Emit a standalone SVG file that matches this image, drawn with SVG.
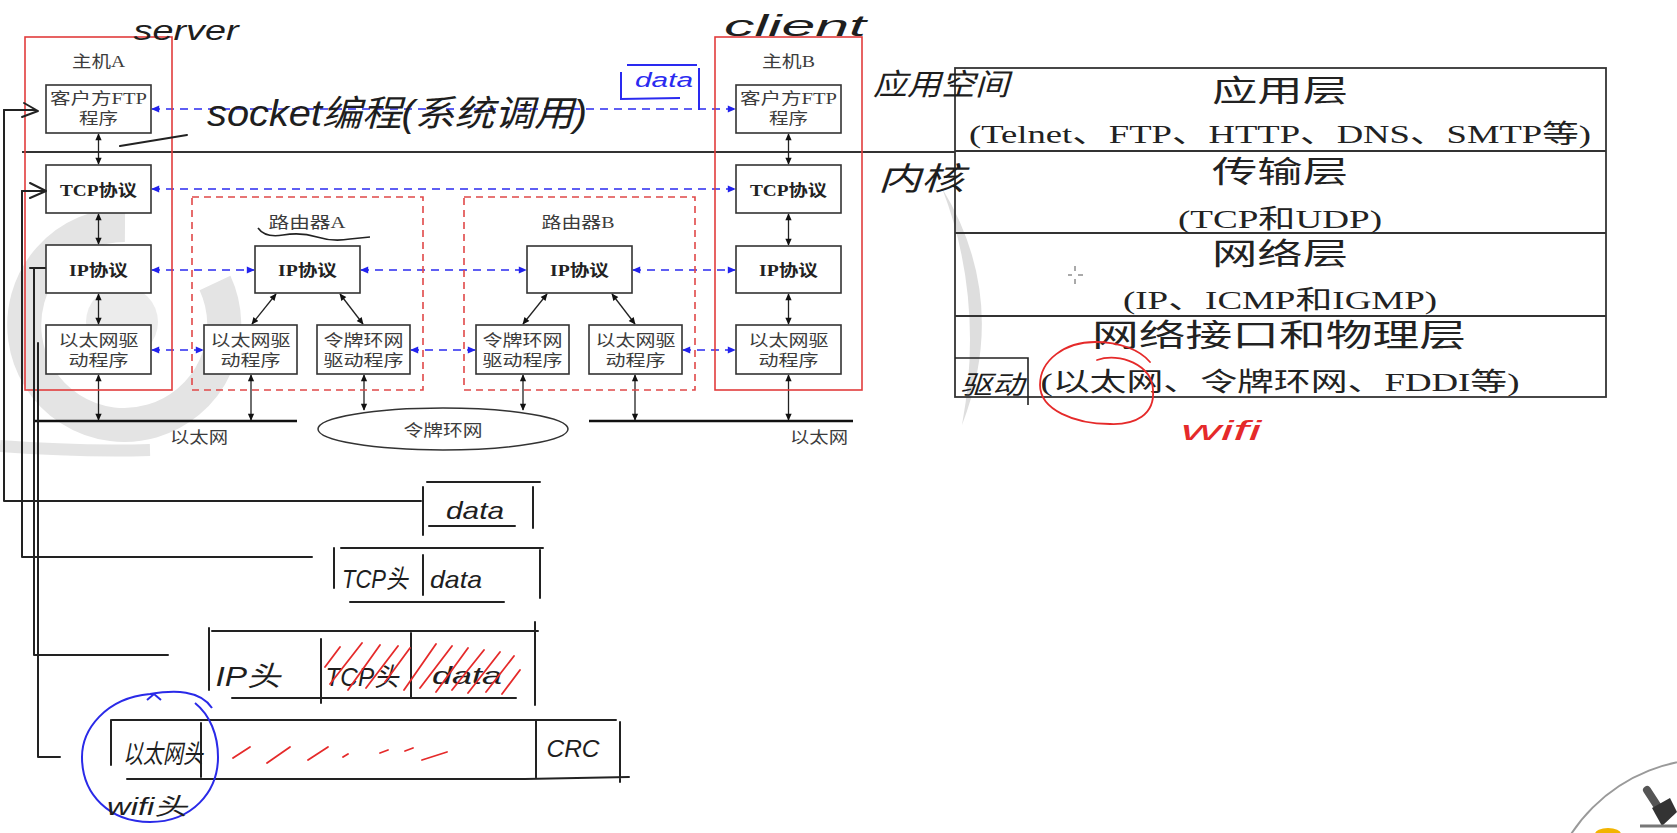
<svg xmlns="http://www.w3.org/2000/svg" width="1677" height="833" viewBox="0 0 1677 833">
<defs>
<style>
.box{fill:#fff;stroke:#333;stroke-width:1.6}
.host{fill:none;stroke:#e23c3c;stroke-width:1.6}
.router{fill:none;stroke:#e04848;stroke-width:1.6;stroke-dasharray:7 5}
.t{font-family:"Liberation Serif","Noto Sans CJK SC",serif;font-size:16px;fill:#3c3c3c;text-anchor:middle}
.tb{font-family:"Liberation Serif","Noto Sans CJK SC",serif;font-size:16px;fill:#222;font-weight:bold;text-anchor:middle}
.lt{font-family:"Liberation Serif","Noto Sans CJK SC",serif;fill:#222;text-anchor:middle}
.bl{stroke:#2a2af0;stroke-width:1.6;stroke-dasharray:8 6;fill:none;marker-start:url(#bh);marker-end:url(#bh)}
.ka{stroke:#222;stroke-width:1.3;fill:none;marker-start:url(#kh);marker-end:url(#kh)}
.pen{stroke:#222;stroke-width:2;fill:none;stroke-linecap:round;stroke-linejoin:round}
.hand{font-family:"Liberation Sans","Noto Sans CJK SC",sans-serif;font-style:italic;fill:#1e1e1e}
.red{stroke:#e52a2a;stroke-width:1.8;fill:none;stroke-linecap:round}
.wm{fill:none;stroke:#e4e4e4}
</style>
<marker id="bh" viewBox="0 0 10 10" refX="9" refY="5" markerWidth="9" markerHeight="8" markerUnits="userSpaceOnUse" orient="auto-start-reverse"><path d="M0,0.5 L10,5 L0,9.5 z" fill="#2222ee"/></marker>
<marker id="kh" viewBox="0 0 10 10" refX="9" refY="5" markerWidth="8" markerHeight="7" markerUnits="userSpaceOnUse" orient="auto-start-reverse"><path d="M0,0.5 L10,5 L0,9.5 z" fill="#111"/></marker>
</defs>
<rect width="1677" height="833" fill="#fff"/>

<!-- watermark -->
<g id="watermark">
<path class="wm" stroke-width="34" d="M125,225 A100,100 0 1,0 215,283"/>
<circle cx="122" cy="322" r="36" fill="#ececec"/>
<path class="wm" stroke-width="12" d="M0,446 Q80,452 150,450"/>
<path d="M942,188 Q1010,300 962,425 Q985,300 942,188 z" fill="#dedede"/>
</g>

<!-- divider line between app space and kernel -->
<line x1="22" y1="152" x2="955" y2="152" stroke="#333" stroke-width="2"/>

<g id="connectors">
<line class="bl" x1="152" y1="109" x2="735" y2="109"/>
<line class="bl" x1="152" y1="189" x2="735" y2="189"/>
<line class="bl" x1="152" y1="270" x2="254" y2="270"/>
<line class="bl" x1="361" y1="270" x2="526" y2="270"/>
<line class="bl" x1="633" y1="270" x2="735" y2="270"/>
<line class="bl" x1="152" y1="350" x2="203" y2="350"/>
<line class="bl" x1="411" y1="350" x2="475" y2="350"/>
<line class="bl" x1="683" y1="350" x2="735" y2="350"/>
<line class="ka" x1="98.5" y1="134" x2="98.5" y2="164"/>
<line class="ka" x1="98.5" y1="214" x2="98.5" y2="244"/>
<line class="ka" x1="98.5" y1="294" x2="98.5" y2="324"/>
<line class="ka" x1="98.5" y1="375" x2="98.5" y2="420"/>
<line class="ka" x1="276" y1="294" x2="252" y2="324"/>
<line class="ka" x1="340" y1="294" x2="363" y2="324"/>
<line class="ka" x1="251" y1="375" x2="251" y2="420"/>
<line class="ka" x1="364" y1="375" x2="364" y2="410"/>
<line class="ka" x1="547" y1="294" x2="523" y2="324"/>
<line class="ka" x1="612" y1="294" x2="635" y2="324"/>
<line class="ka" x1="523" y1="375" x2="523" y2="410"/>
<line class="ka" x1="635" y1="375" x2="635" y2="420"/>
<line class="ka" x1="788.5" y1="134" x2="788.5" y2="164"/>
<line class="ka" x1="788.5" y1="214" x2="788.5" y2="245"/>
<line class="ka" x1="788.5" y1="294" x2="788.5" y2="324"/>
<line class="ka" x1="788.5" y1="375" x2="788.5" y2="420"/>
</g>

<g id="hostA">
<rect class="host" x="25" y="37" width="147" height="353"/>
<text class="t" x="98.5" y="67" textLength="53" lengthAdjust="spacingAndGlyphs">主机A</text>
<rect class="box" x="46" y="85" width="105" height="48"/>
<text class="t" x="98.5" y="104" textLength="97" lengthAdjust="spacingAndGlyphs">客户方FTP</text>
<text class="t" x="98.5" y="124" textLength="39" lengthAdjust="spacingAndGlyphs">程序</text>
<rect class="box" x="46" y="165" width="105" height="48"/>
<text class="tb" x="98.5" y="196" textLength="77" lengthAdjust="spacingAndGlyphs">TCP协议</text>
<rect class="box" x="46" y="245" width="105" height="48"/>
<text class="tb" x="98.5" y="276" textLength="59" lengthAdjust="spacingAndGlyphs">IP协议</text>
<rect class="box" x="46" y="325" width="105" height="49"/>
<text class="t" x="98.5" y="346" textLength="80" lengthAdjust="spacingAndGlyphs">以太网驱</text>
<text class="t" x="98.5" y="366" textLength="60" lengthAdjust="spacingAndGlyphs">动程序</text>
</g>

<g id="routerA">
<rect class="router" x="192" y="197" width="231" height="193"/>
<text class="t" x="307" y="228" textLength="77" lengthAdjust="spacingAndGlyphs">路由器A</text>
<rect class="box" x="255" y="246" width="105" height="47"/>
<text class="tb" x="307.5" y="276" textLength="59" lengthAdjust="spacingAndGlyphs">IP协议</text>
<rect class="box" x="204" y="325" width="93" height="49"/>
<text class="t" x="250.5" y="346" textLength="80" lengthAdjust="spacingAndGlyphs">以太网驱</text>
<text class="t" x="250.5" y="366" textLength="60" lengthAdjust="spacingAndGlyphs">动程序</text>
<rect class="box" x="317" y="325" width="93" height="49"/>
<text class="t" x="363.5" y="346" textLength="80" lengthAdjust="spacingAndGlyphs">令牌环网</text>
<text class="t" x="363.5" y="366" textLength="80" lengthAdjust="spacingAndGlyphs">驱动程序</text>
</g>

<g id="routerB">
<rect class="router" x="464" y="197" width="231" height="193"/>
<text class="t" x="578" y="228" textLength="73" lengthAdjust="spacingAndGlyphs">路由器B</text>
<rect class="box" x="527" y="246" width="105" height="47"/>
<text class="tb" x="579.5" y="276" textLength="59" lengthAdjust="spacingAndGlyphs">IP协议</text>
<rect class="box" x="476" y="325" width="93" height="49"/>
<text class="t" x="522.5" y="346" textLength="80" lengthAdjust="spacingAndGlyphs">令牌环网</text>
<text class="t" x="522.5" y="366" textLength="80" lengthAdjust="spacingAndGlyphs">驱动程序</text>
<rect class="box" x="589" y="325" width="93" height="49"/>
<text class="t" x="635.5" y="346" textLength="80" lengthAdjust="spacingAndGlyphs">以太网驱</text>
<text class="t" x="635.5" y="366" textLength="60" lengthAdjust="spacingAndGlyphs">动程序</text>
</g>

<g id="hostB">
<rect class="host" x="715" y="37" width="147" height="353"/>
<text class="t" x="788.5" y="67" textLength="53" lengthAdjust="spacingAndGlyphs">主机B</text>
<rect class="box" x="736" y="85" width="105" height="48"/>
<text class="t" x="788.5" y="104" textLength="97" lengthAdjust="spacingAndGlyphs">客户方FTP</text>
<text class="t" x="788.5" y="124" textLength="39" lengthAdjust="spacingAndGlyphs">程序</text>
<rect class="box" x="736" y="165" width="105" height="48"/>
<text class="tb" x="788.5" y="196" textLength="77" lengthAdjust="spacingAndGlyphs">TCP协议</text>
<rect class="box" x="736" y="246" width="105" height="47"/>
<text class="tb" x="788.5" y="276" textLength="59" lengthAdjust="spacingAndGlyphs">IP协议</text>
<rect class="box" x="736" y="325" width="105" height="49"/>
<text class="t" x="788.5" y="346" textLength="80" lengthAdjust="spacingAndGlyphs">以太网驱</text>
<text class="t" x="788.5" y="366" textLength="60" lengthAdjust="spacingAndGlyphs">动程序</text>
</g>

<g id="networks">
<line x1="33" y1="421" x2="297" y2="421" stroke="#111" stroke-width="2.5"/>
<text class="t" x="199" y="443" textLength="58" lengthAdjust="spacingAndGlyphs">以太网</text>
<ellipse cx="443" cy="429" rx="125" ry="21" fill="#fff" stroke="#333" stroke-width="1.5"/>
<text class="t" x="443" y="436" textLength="79" lengthAdjust="spacingAndGlyphs">令牌环网</text>
<line x1="589" y1="421" x2="853" y2="421" stroke="#111" stroke-width="2.5"/>
<text class="t" x="819" y="443" textLength="58" lengthAdjust="spacingAndGlyphs">以太网</text>
</g>

<g id="layers">
<rect x="955" y="68" width="651" height="329" fill="none" stroke="#333" stroke-width="1.8"/>
<line x1="955" y1="151" x2="1606" y2="151" stroke="#333" stroke-width="1.8"/>
<line x1="955" y1="233" x2="1606" y2="233" stroke="#333" stroke-width="1.8"/>
<line x1="955" y1="316" x2="1606" y2="316" stroke="#333" stroke-width="1.8"/>
<text class="lt" x="1280" y="101" font-size="30" textLength="136" lengthAdjust="spacingAndGlyphs">应用层</text>
<text class="lt" x="1280" y="143" font-size="26" textLength="622" lengthAdjust="spacingAndGlyphs">(Telnet、FTP、HTTP、DNS、SMTP等)</text>
<text class="lt" x="1280" y="182" font-size="30" textLength="136" lengthAdjust="spacingAndGlyphs">传输层</text>
<text class="lt" x="1280" y="228" font-size="26" textLength="204" lengthAdjust="spacingAndGlyphs">(TCP和UDP)</text>
<text class="lt" x="1280" y="264" font-size="30" textLength="136" lengthAdjust="spacingAndGlyphs">网络层</text>
<text class="lt" x="1280" y="309" font-size="26" textLength="314" lengthAdjust="spacingAndGlyphs">(IP、ICMP和IGMP)</text>
<text class="lt" x="1279" y="346" font-size="31" textLength="374" lengthAdjust="spacingAndGlyphs">网络接口和物理层</text>
<text class="lt" x="1280" y="391" font-size="26" textLength="479" lengthAdjust="spacingAndGlyphs">(以太网、令牌环网、FDDI等)</text>
<path d="M1068,275 H1072 M1078,275 H1083 M1075,266 V271 M1075,279 V284" stroke="#555" stroke-width="1"/>
</g>

<g id="annotations">
<text class="hand" x="186" y="40" font-size="28" text-anchor="middle" textLength="105" lengthAdjust="spacingAndGlyphs">server</text>
<text class="hand" x="795" y="36" font-size="30" text-anchor="middle" textLength="142" lengthAdjust="spacingAndGlyphs">client</text>
<text class="hand" x="397" y="126" font-size="36" text-anchor="middle" textLength="380" lengthAdjust="spacingAndGlyphs">socket编程(系统调用)</text>
<path class="pen" d="M120,146 L187,135"/>
<path d="M627,65 H697 M621,72 V99 L680,98 M699,68 V110" stroke="#2a2af0" stroke-width="2" fill="none"/>
<text class="hand" x="664" y="87" font-size="20" text-anchor="middle" fill="#2a2af0" style="fill:#2a2af0" textLength="58" lengthAdjust="spacingAndGlyphs">data</text>
<text class="hand" x="941" y="95" font-size="30" text-anchor="middle" textLength="136" lengthAdjust="spacingAndGlyphs">应用空间</text>
<text class="hand" x="921" y="190" font-size="32" text-anchor="middle" textLength="86" lengthAdjust="spacingAndGlyphs">内核</text>
<path d="M258,228 Q265,238 283,235 T317,237 T350,239 L370,237" stroke="#222" stroke-width="1.6" fill="none"/>
<path d="M955,358 H1028 V405" stroke="#222" stroke-width="1.6" fill="none"/>
<text class="hand" x="992" y="394" font-size="26" text-anchor="middle" textLength="64" lengthAdjust="spacingAndGlyphs">驱动</text>
<path class="red" d="M1097,360 C1120,352 1152,365 1153,390 C1155,415 1135,425 1110,424 C1075,424 1040,410 1040,385 C1040,360 1065,342 1095,342 C1120,342 1140,350 1150,362"/>
<text class="hand" x="1221" y="440" font-size="28" text-anchor="middle" style="fill:#e52a2a" textLength="80" lengthAdjust="spacingAndGlyphs">wifi</text>
</g>

<g id="packets">
<!-- feeds -->
<path class="pen" d="M4,110 H36 M24,103 L38,111 L22,117"/>
<path class="pen" d="M4,110 V501 H421"/>
<path class="pen" d="M22,191 H44 M30,183 L46,191 L30,198"/>
<path class="pen" d="M22,191 V557 H312"/>
<path class="pen" d="M30,268 H45 M34,268 V655 H168"/>
<path class="pen" d="M38,343 V757 H60"/>
<!-- data -->
<path class="pen" d="M427,482 H540 M423,487 V535 M533,487 V528 M429,526 H515"/>
<text class="hand" x="475" y="519" font-size="24" text-anchor="middle" textLength="58" lengthAdjust="spacingAndGlyphs">data</text>
<!-- TCP -->
<path class="pen" d="M341,548 H543 M334,548 V588 M423,555 V595 M540,550 V598 M350,602 H504"/>
<text class="hand" x="375" y="588" font-size="26" text-anchor="middle" textLength="66" lengthAdjust="spacingAndGlyphs">TCP头</text>
<text class="hand" x="456" y="588" font-size="24" text-anchor="middle" textLength="52" lengthAdjust="spacingAndGlyphs">data</text>
<!-- IP -->
<path class="pen" d="M212,631 H538 M209,628 V690 M321,639 V703 M411,633 V697 M535,622 V705 M232,698 H516"/>
<text class="hand" x="248" y="686" font-size="28" text-anchor="middle" textLength="65" lengthAdjust="spacingAndGlyphs">IP头</text>
<text class="hand" x="362" y="686" font-size="26" text-anchor="middle" textLength="73" lengthAdjust="spacingAndGlyphs">TCP头</text>
<text class="hand" x="467" y="684" font-size="24" text-anchor="middle" textLength="70" lengthAdjust="spacingAndGlyphs">data</text>
<path class="red" d="M325,667 L340,647 M330,684 L362,643 M348,690 L380,645 M366,688 L398,646 M385,682 L410,648 M404,690 L436,644 M420,688 L452,646 M436,692 L468,648 M452,690 L484,650 M468,693 L500,652 M486,692 L514,656 M502,694 L520,670"/>
<!-- Ethernet frame -->
<path class="pen" d="M112,720 H616 M111,720 V765 M201,723 V777 M127,779 H525 L629,777 M536,720 V777 M620,722 V782"/>
<text class="hand" x="163" y="763" font-size="26" text-anchor="middle" textLength="80" lengthAdjust="spacingAndGlyphs">以太网头</text>
<text class="hand" x="573" y="757" font-size="24" text-anchor="middle" textLength="53" lengthAdjust="spacingAndGlyphs">CRC</text>
<path class="red" d="M233,758 L250,747 M267,763 L290,747 M308,760 L328,747 M343,757 L348,754 M380,753 L388,750 M405,751 L413,748 M422,760 L447,752"/>
<path d="M212,708 C200,690 175,690 150,694 C105,698 82,730 82,757 C82,795 110,822 150,822 C192,822 218,792 218,757 C218,735 210,715 195,703 M147,700 L154,694 L161,700" stroke="#2a2ae8" stroke-width="2" fill="none"/>
<text class="hand" x="147" y="815" font-size="24" text-anchor="middle" textLength="80" lengthAdjust="spacingAndGlyphs">wifi头</text>
</g>

<g id="logo">
<circle cx="1710" cy="925" r="166" fill="#fff" stroke="#9a9a9a" stroke-width="2"/>
<ellipse cx="1608" cy="834" rx="13" ry="6" fill="#f2b400"/>
<line x1="1647" y1="790" x2="1660" y2="810" stroke="#555" stroke-width="8" stroke-linecap="round"/>
<path d="M1652,808 L1670,798 L1677,812 L1662,826 z" fill="#333"/>
<path d="M1640,826 H1677" stroke="#777" stroke-width="3"/>
</g>
</svg>
